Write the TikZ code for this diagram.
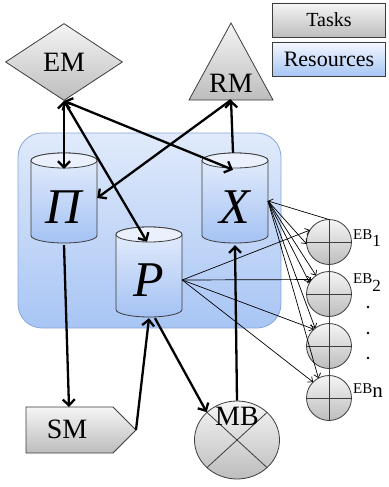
\documentclass[tikz,border=0pt]{standalone}
\usepackage{fontspec}
\setmainfont{Liberation Serif}
\usetikzlibrary{shapes.geometric,arrows.meta}
\definecolor{gtop}{HTML}{F5F5F5}
\definecolor{gbot}{HTML}{BDBDBD}
\definecolor{btop}{HTML}{E0EAFB}
\definecolor{bbot}{HTML}{A8C5F4}
\definecolor{bedge}{HTML}{86A7DA}
\definecolor{ctop}{HTML}{E6EEFC}
\definecolor{cbot}{HTML}{A4C2F3}
\definecolor{cend}{HTML}{EAF0FC}
\definecolor{edge}{HTML}{3C3C3C}
\definecolor{rtop}{HTML}{F4F8FE}
\definecolor{rbot}{HTML}{A6C6F5}
\newcommand\cylshape[3]{%
  \shade[top color=ctop,bottom color=cbot,draw=edge,line width=0.8pt]
    (#1-33,#2) -- (#1-33,#3) arc[start angle=180,end angle=0,x radius=33,y radius=7.5]
    -- (#1+33,#2) arc[start angle=0,end angle=-180,x radius=33,y radius=7.5] -- cycle;
  \filldraw[fill=cend,draw=edge,line width=0.8pt] (#1,#2) ellipse[x radius=33,y radius=7.5];}
\begin{document}
\begin{tikzpicture}[x=1pt,y=-1pt,
  grayshade/.style={draw=edge,line width=0.8pt,top color=gtop,bottom color=gbot},
  bigtext/.style={font=\fontsize{28}{28}\selectfont},
  cyltext/.style={minimum width=66pt,minimum height=76pt,inner sep=0pt,font=\fontsize{50}{50}\selectfont\itshape},
  ebnode/.style={circle,minimum size=45pt,inner sep=0pt,outer sep=0pt},
  ebtext/.style={anchor=base west,inner sep=0pt,font=\fontsize{15}{15}\selectfont},
  thickarr/.style={line width=2.3pt,-{Straight Barb[length=6pt,width=12pt]}},
  thickboth/.style={line width=2.3pt,{Straight Barb[length=6pt,width=12pt]}-{Straight Barb[length=6pt,width=12pt]}},
  thinarr/.style={line width=0.7pt,-{Straight Barb[length=4pt,width=7pt]}}]
\useasboundingbox (0,0) rectangle (388,487);

% legend
\node[grayshade,minimum width=113pt,minimum height=34pt,inner sep=0pt,font=\fontsize{20}{20}\selectfont] (tasks) at (329,20) {Tasks};
\node[draw=edge,line width=0.8pt,top color=rtop,bottom color=rbot,minimum width=113pt,minimum height=34pt,inner sep=0pt,font=\fontsize{22}{22}\selectfont] (res) at (329,59) {Resources};

% resource group
\shade[top color=btop,bottom color=bbot,draw=bedge,line width=0.8pt,rounded corners=24pt] (18,133) rectangle (281,328);

% cylinders
\cylshape{64}{160.5}{235.5}
\cylshape{235}{160.5}{235.5}
\cylshape{149}{234.5}{309.5}
\node[cyltext] (Pi) at (64,207) {Π};
\node[cyltext] (X) at (235,207) {X};
\node[cyltext] (P) at (149,280) {P};

% EM diamond
\node[diamond,aspect=1.5,grayshade,minimum width=117pt,minimum height=77pt,inner sep=0pt,bigtext] (EM) at (64,62) {EM};

% RM triangle
\shade[grayshade] (231,23) -- (273,100) -- (189,100) -- cycle;
\node[bigtext,inner sep=0pt] (RM) at (231,83) {RM};
\coordinate (RMb) at (231,100);

% SM
\shade[grayshade] (26,407) -- (113,407) -- (136,430) -- (113,453) -- (26,453) -- cycle;
\node[bigtext,inner sep=0pt] (SM) at (67,429) {SM};
\coordinate (SMt) at (69,407);
\coordinate (SMp) at (136,430);

% MB
\node[ellipse,grayshade,minimum width=85pt,minimum height=78pt,inner sep=0pt] (MB) at (237,440) {};
\draw[edge,line width=0.8pt] (MB.north east) -- (MB.south west) (MB.north west) -- (MB.south east);
\node[bigtext,inner sep=0pt] (MBt) at (237,416) {MB};

% EB circles
\node[ebnode] (EB1) at (329,242) {};
\node[ebnode] (EB2) at (329,294) {};
\node[ebnode] (EB3) at (329,346) {};
\node[ebnode] (EB4) at (329,398) {};
\foreach \n in {EB1,EB2,EB3,EB4}{
  \shade[grayshade] (\n.center) circle[radius=22.5];
  \draw[edge,line width=0.8pt] (\n.north) -- (\n.south) (\n.west) -- (\n.east);}
\draw[edge,line width=0.8pt] (EB1.south) -- (EB2.north) (EB2.south) -- (EB3.north) (EB3.south) -- (EB4.north);
\node[ebtext] (L1) at (353,239) {EB\raisebox{-7pt}{\fontsize{17}{17}\selectfont 1}};
\node[ebtext] (L2) at (353,283) {EB\raisebox{-8pt}{\fontsize{17}{17}\selectfont 2}};
\node[ebtext] (L4) at (353,393) {EB\raisebox{-4pt}{\fontsize{21}{21}\selectfont n}};
\fill (368,307) circle[radius=1.3];
\fill (368,333) circle[radius=1.3];
\fill (368,358) circle[radius=1.3];

% thin connectors
\draw[thinarr] (P.east) -- (EB1.148);
\draw[thinarr] (P.east) -- (EB2.140);
\draw[thinarr] (P.east) -- (EB3.132);
\draw[thinarr] (P.east) -- (EB4.135);
\coordinate (Xe) at (268,201);
\draw[thinarr] (EB1.north) -- (Xe);
\draw[thinarr] (Xe) -- (EB1.185);
\draw[thinarr] (Xe) -- (EB2.125);
\draw[thinarr] (Xe) -- (EB2.150);
\draw[thinarr] (Xe) -- (EB3.128);
\draw[thinarr] (Xe) -- (EB4.118);

% thick connectors
\draw[thickboth] (EM.south) -- (Pi.north);
\draw[thickboth] (EM.south) -- ([xshift=-2pt]P.north);
\draw[thickboth] (EM.south) -- ([xshift=-2pt,yshift=-1pt]X.north);
\draw[thickarr] ([xshift=-2pt,yshift=16pt]X.north) -- (RMb);
\draw[thickarr] (RMb) -- ([yshift=9pt]Pi.east);
\draw[thickarr] (Pi.south) -- (SMt);
\draw[thickarr] (SMp) -- (P.south);
\draw[thickarr] ([xshift=6pt]P.south) -- (MB.north west);
\draw[thickarr] (MB.north) -- (X.south);
\end{tikzpicture}
\end{document}
